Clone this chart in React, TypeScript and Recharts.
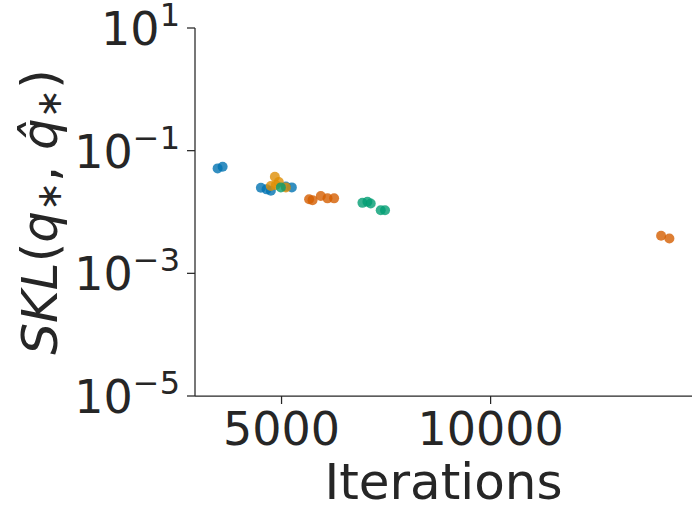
import { ScatterChart, Scatter, XAxis, YAxis, Label } from 'recharts'

const blueX = [3471, 3591, 4506, 4642, 4744, 5103, 5246]
const blueY = [0.0514, 0.0546, 0.0248, 0.0234, 0.0222, 0.0261, 0.0252]
const goldX = [4840, 4864, 4935, 4744, 5103]
const goldY = [0.0375, 0.0275, 0.0308, 0.0265, 0.0252]
const greenX = [4983, 6935, 7054, 7133, 7372, 7475]
const greenY = [0.0252, 0.0141, 0.0147, 0.0138, 0.0107, 0.0107]
const redX = [5659, 5741, 5939, 6099, 6257, 14078, 14276]
const redY = [0.0161, 0.0156, 0.0182, 0.0167, 0.0167, 0.00409, 0.00371]

const xTicks = [5000, 10000]
const yTicks = [1e-5, 1e-3, 1e-1, 10]
const yExponents = ['−5', '−3', '−1', '1']

const INK = '#262626'
const FONT = 'DejaVu Sans'

const toPoints = (xs: number[], ys: number[]) => xs.map((x, i) => ({ x, y: ys[i] }))

const series = [
  { name: 'a', color: '#0173b2', data: toPoints(blueX, blueY) },
  { name: 'b', color: '#de8f05', data: toPoints(goldX, goldY) },
  { name: 'c', color: '#029e73', data: toPoints(greenX, greenY) },
  { name: 'd', color: '#d55e00', data: toPoints(redX, redY) },
]

const Dot = (color: string) => (p: any) => (
  <circle cx={p.cx} cy={p.cy} r={5} fill={color} fillOpacity={0.8} stroke="none" />
)

const XTick = (p: any) => (
  <text x={p.x} y={p.y} dy={34} textAnchor="middle" fontSize={46} fill={INK} fontFamily={FONT}>
    {p.payload.value}
  </text>
)

const YTick = (p: any) => {
  const i = yTicks.indexOf(p.payload.value)
  return (
    <text x={p.x} y={p.y + 17} textAnchor="end" fontSize={46} fill={INK} fontFamily={FONT}>
      10
      <tspan fontSize={32} dy={-19}>{yExponents[i]}</tspan>
    </text>
  )
}

export default function App() {
  return (
    <div style={{ position: 'absolute', left: 0, top: 0, background: '#fff' }}>
      <ScatterChart width={700} height={519} margin={{ top: 28, right: 8, bottom: 0, left: 0 }}>
        <XAxis
          type="number"
          dataKey="x"
          domain={[2930, 14817]}
          ticks={xTicks}
          allowDataOverflow
          height={123}
          tickSize={8}
          tickMargin={7}
          tick={XTick}
          axisLine={{ stroke: INK, strokeWidth: 1.25 }}
          tickLine={{ stroke: INK, strokeWidth: 1.25 }}
        >
          <Label
            content={(props: any) => {
              const vb = props.viewBox
              return (
                <text x={vb.x + vb.width / 2} y={vb.y + 103} textAnchor="middle" fontSize={50} fill={INK} fontFamily={FONT}>
                  Iterations
                </text>
              )
            }}
          />
        </XAxis>
        <YAxis
          type="number"
          dataKey="y"
          scale="log"
          domain={[1e-5, 10]}
          ticks={yTicks}
          allowDataOverflow
          width={195}
          tickSize={8}
          tickMargin={7}
          tick={YTick}
          axisLine={{ stroke: INK, strokeWidth: 1.25 }}
          tickLine={{ stroke: INK, strokeWidth: 1.25 }}
        >
          <Label
            content={(props: any) => {
              const vb = props.viewBox
              const cx = 57
              const cy = vb.y + vb.height / 2
              return (
                <text
                  x={cx}
                  y={cy}
                  transform={`rotate(-90, ${cx}, ${cy})`}
                  textAnchor="middle"
                  fontSize={50}
                  fill={INK}
                  fontFamily={FONT}
                >
                  <tspan fontStyle="italic">SKL</tspan>
                  <tspan>(</tspan>
                  <tspan fontStyle="italic">q</tspan>
                  <tspan fontSize={35} dy={4}>∗</tspan>
                  <tspan dy={-4}>, </tspan>
                  <tspan fontStyle="italic">{'q\u0302'}</tspan>
                  <tspan fontSize={35} dy={4}>∗</tspan>
                  <tspan dy={-4}>)</tspan>
                </text>
              )
            }}
          />
        </YAxis>
        {series.map((s) => (
          <Scatter key={s.name} data={s.data} fill={s.color} shape={Dot(s.color)} isAnimationActive={false} />
        ))}
      </ScatterChart>
    </div>
  )
}
